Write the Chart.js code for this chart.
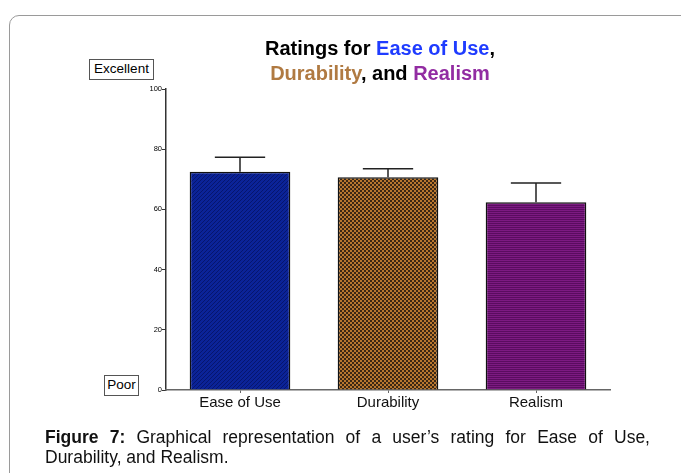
<!DOCTYPE html>
<html>
<head>
<meta charset="utf-8">
<script src="https://cdn.jsdelivr.net/npm/chart.js@4.4.0/dist/chart.umd.min.js"></script>
<style>
  html, body { margin: 0; padding: 0; background: #fff; }
  body { width: 681px; height: 473px; position: relative; overflow: hidden; font-family: Arial, "Liberation Sans", sans-serif; }
  .card { position: absolute; left: 9px; top: 15px; width: 720px; height: 520px; border: 1.5px solid #9a9a9a; border-radius: 10px; box-sizing: border-box; }
  #wrap { position: absolute; left: 0; top: 0; width: 681px; height: 473px; }
  .title { position: absolute; left: 180px; width: 400px; text-align: center; font-weight: bold; font-size: 20px; line-height: 25px; top: 36px; color: #000; }
  .blue { color: #1f3cff; }
  .brown { color: #b07a42; }
  .purple { color: #922ca2; }
  .tag { position: absolute; border: 1.5px solid #555; background: #fff; font-size: 13.5px; line-height: 18px; text-align: center; box-sizing: border-box; height: 21px; }
  .caption { position: absolute; left: 45px; top: 427px; width: 605px; font-size: 17.5px; line-height: 20px; text-align: justify; text-align-last: left; color: #111; }
</style>
</head>
<body>
<div class="card"></div>
<div id="wrap"><canvas id="ratingsChart" width="681" height="473"></canvas></div>
<div class="title">Ratings for <span class="blue">Ease of Use</span>,<br><span class="brown">Durability</span>, and <span class="purple">Realism</span></div>
<div class="tag" style="left:89px; top:59px; width:65px;">Excellent</div>
<div class="tag" style="left:104px; top:375px; width:35px;">Poor</div>
<div class="caption"><b>Figure 7:</b> Graphical representation of a user’s rating for Ease of Use, Durability, and Realism.</div>
<script>
// chart data
const categories = ['Ease of Use', 'Durability', 'Realism'];
const meanRatings = [72.5, 70.7, 62.4];
const errorUp = [4.8, 2.8, 6.4];
const yTicks = [0, 20, 40, 60, 80, 100];

// small canvas patterns to mimic the printed fills
function makePattern(size, paint) {
  const c = document.createElement('canvas');
  c.width = size; c.height = size;
  const g = c.getContext('2d');
  paint(g);
  return g.createPattern(c, 'repeat');
}

const bluePattern = makePattern(4, g => {
  g.fillStyle = '#0b2398'; g.fillRect(0, 0, 4, 4);
  g.fillStyle = '#06156e';
  g.fillRect(0, 0, 1, 1); g.fillRect(2, 2, 1, 1);
  g.fillRect(1, 3, 1, 1); g.fillRect(3, 1, 1, 1);
});

const brownPattern = makePattern(4, g => {
  g.fillStyle = '#3b2714'; g.fillRect(0, 0, 4, 4);
  g.fillStyle = '#b8772f';
  g.fillRect(0, 0, 2, 2); g.fillRect(2, 2, 2, 2);
});

const purplePattern = makePattern(2, g => {
  g.fillStyle = '#7c1a82'; g.fillRect(0, 0, 2, 2);
  g.fillStyle = '#5a0c60'; g.fillRect(0, 1, 2, 1);
});

const errorBars = {
  id: 'errorBars',
  afterDatasetsDraw(chart) {
    const meta = chart.getDatasetMeta(0);
    const y = chart.scales.y;
    const ctx = chart.ctx;
    ctx.save();
    ctx.strokeStyle = '#222';
    ctx.lineWidth = 1.5;
    meta.data.forEach((bar, i) => {
      const top = y.getPixelForValue(meanRatings[i] + errorUp[i]);
      const half = bar.width / 4;
      ctx.beginPath();
      ctx.moveTo(bar.x, bar.y);
      ctx.lineTo(bar.x, top);
      ctx.moveTo(bar.x - half, top);
      ctx.lineTo(bar.x + half, top);
      ctx.stroke();
    });
    ctx.restore();
  }
};

new Chart(document.getElementById('ratingsChart'), {
  type: 'bar',
  data: {
    labels: categories,
    datasets: [{
      data: meanRatings,
      backgroundColor: [bluePattern, brownPattern, purplePattern],
      borderColor: '#111',
      borderWidth: 1.5,
      barPercentage: 0.68,
      categoryPercentage: 1
    }]
  },
  options: {
    responsive: false,
    animation: false,
    layout: { padding: { left: 136, right: 71, top: 89, bottom: 53 } },
    plugins: { legend: { display: false }, tooltip: { enabled: false } },
    scales: {
      y: {
        min: 0,
        max: 100,
        afterFit: s => { s.width = 30; },
        afterBuildTicks: s => { s.ticks = yTicks.map(v => ({ value: v })); },
        border: { color: '#333', width: 1.5 },
        grid: { drawOnChartArea: false, drawTicks: true, tickLength: 4, tickColor: '#333' },
        ticks: { color: '#000', font: { family: 'Arial', size: 7.5 }, padding: 0 }
      },
      x: {
        afterFit: s => { s.height = 30; },
        border: { color: '#666', width: 1.5 },
        grid: { offset: false, drawOnChartArea: false, drawTicks: true, tickLength: 3, tickColor: '#666' },
        ticks: { color: '#111', font: { family: 'Arial', size: 15 }, padding: 1 }
      }
    }
  },
  plugins: [errorBars]
});
</script>
</body>
</html>
